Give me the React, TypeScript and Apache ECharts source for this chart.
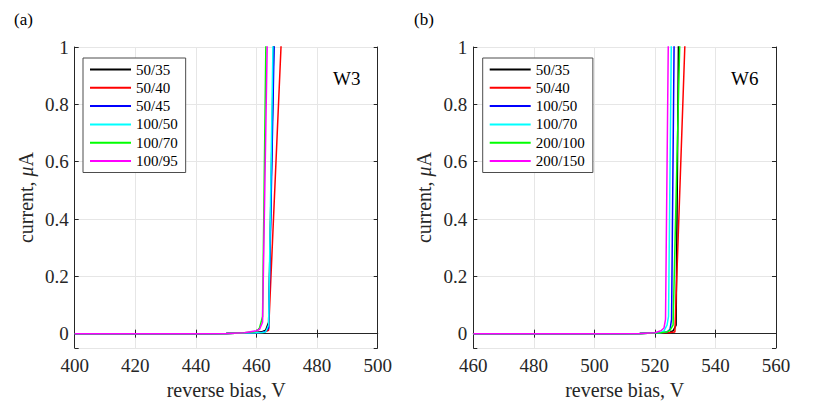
import React, { useEffect, useRef } from "react";
import * as echarts from "echarts";

// ---------- data ----------
const W3_LABELS = ["50/35", "50/40", "50/45", "100/50", "100/70", "100/95"];
const W6_LABELS = ["50/35", "50/40", "100/50", "100/70", "200/100", "200/150"];
const COLORS = ["#000000", "#ff0000", "#0000ff", "#00ffff", "#00ff00", "#ff00ff"];

// W3 panel: reverse bias (V) and current (uA)
const W3_V_5035 = [400, 440, 450, 456, 460, 462, 463, 464, 466];
const W3_I_5035 = [0, 0, 0.001, 0.002, 0.004, 0.008, 0.012, 0.04, 1.2];
const W3_V_5040 = [400, 440, 450, 456, 460, 462, 463, 464, 468.5];
const W3_I_5040 = [0, 0, 0.001, 0.002, 0.003, 0.005, 0.007, 0.012, 1.1];
const W3_V_5045 = [400, 440, 450, 456, 460, 462, 463, 464, 466];
const W3_I_5045 = [0, 0, 0.001, 0.002, 0.003, 0.005, 0.008, 0.02, 1.1];
const W3_V_10050 = [400, 440, 450, 456, 460, 462, 463, 464, 465.5];
const W3_I_10050 = [0, 0, 0.001, 0.002, 0.003, 0.004, 0.006, 0.03, 1.05];
const W3_V_10070 = [400, 440, 450, 456, 460, 461, 462, 463.2];
const W3_I_10070 = [0, 0, 0.001, 0.003, 0.008, 0.02, 0.06, 1.1];
const W3_V_10095 = [400, 440, 450, 456, 460, 461, 462, 463.6];
const W3_I_10095 = [0, 0, 0.001, 0.003, 0.01, 0.015, 0.04, 1.05];

// W6 panel
const W6_V_5035 = [460, 500, 515, 520, 523, 525, 526, 527, 528];
const W6_I_5035 = [0, 0, 0.001, 0.002, 0.003, 0.005, 0.01, 0.03, 1.3];
const W6_V_5040 = [460, 500, 515, 520, 523, 525, 526.6, 530.2];
const W6_I_5040 = [0, 0, 0.001, 0.002, 0.003, 0.004, 0.006, 1.1];
const W6_V_10050 = [460, 500, 515, 520, 522, 524, 525, 525.5, 526.5];
const W6_I_10050 = [0, 0, 0.001, 0.002, 0.003, 0.006, 0.015, 0.05, 1.2];
const W6_V_10070 = [460, 500, 515, 520, 522, 523, 524, 524.5, 525.5];
const W6_I_10070 = [0, 0, 0.001, 0.002, 0.004, 0.01, 0.03, 0.06, 1.1];
const W6_V_200100 = [460, 500, 515, 520, 522, 524, 525, 526, 528.4];
const W6_I_200100 = [0, 0, 0.001, 0.002, 0.003, 0.006, 0.012, 0.03, 1.1];
const W6_V_200150 = [460, 500, 515, 520, 522, 523, 523.5, 524.5];
const W6_I_200150 = [0, 0, 0.001, 0.003, 0.01, 0.02, 0.05, 1.1];

const W3_V = [W3_V_5035, W3_V_5040, W3_V_5045, W3_V_10050, W3_V_10070, W3_V_10095];
const W3_I = [W3_I_5035, W3_I_5040, W3_I_5045, W3_I_10050, W3_I_10070, W3_I_10095];
const W6_V = [W6_V_5035, W6_V_5040, W6_V_10050, W6_V_10070, W6_V_200100, W6_V_200150];
const W6_I = [W6_I_5035, W6_I_5040, W6_I_10050, W6_I_10070, W6_I_200100, W6_I_200150];

const W3_X_RANGE = [400, 500];
const W6_X_RANGE = [460, 560];
const Y_RANGE = [-0.05, 1];
const X_TITLE = "reverse bias, V";
const PANEL_TAGS = ["(a)", "(b)"];
const PANEL_NAMES = ["W3", "W6"];

const FONT = "'Liberation Serif', 'Times New Roman', serif";
const AXIS_COLOR = "#262626";
const GRID_COLOR = "#e6e6e6";

export default function App() {
  const ref = useRef<HTMLDivElement>(null);

  useEffect(() => {
    if (!ref.current) return;
    const chart = echarts.init(ref.current, null, { renderer: "svg" });

    const grids = [
      { left: 74.7, right: 452.3, top: 47, bottom: 67 },
      { left: 473.3, right: 54, top: 47, bottom: 67 },
    ];
    const ranges = [W3_X_RANGE, W6_X_RANGE];

    const xAxis: any[] = [];
    const yAxis: any[] = [];
    ranges.forEach((r, g) => {
      xAxis.push({
        type: "value",
        gridIndex: g,
        min: r[0],
        max: r[1],
        interval: 20,
        position: "bottom",
        name: X_TITLE,
        nameLocation: "middle",
        nameGap: 29,
        nameTextStyle: { fontFamily: FONT, fontSize: 20, color: AXIS_COLOR },
        axisLine: { lineStyle: { color: AXIS_COLOR, width: 1 } },
        axisTick: { inside: true, length: 4, lineStyle: { color: AXIS_COLOR } },
        axisLabel: { fontFamily: FONT, fontSize: 19, color: AXIS_COLOR, margin: 8 },
        splitLine: { show: true, lineStyle: { color: GRID_COLOR, width: 1 } },
      });
      xAxis.push({
        type: "value",
        gridIndex: g,
        min: r[0],
        max: r[1],
        interval: 20,
        position: "top",
        axisLine: { lineStyle: { color: AXIS_COLOR, width: 1 } },
        axisTick: { inside: true, length: 4, lineStyle: { color: AXIS_COLOR } },
        axisLabel: { show: false },
        splitLine: { show: false },
      });
      yAxis.push({
        type: "value",
        gridIndex: g,
        min: Y_RANGE[0],
        max: Y_RANGE[1],
        splitNumber: 5,
        position: "left",
        name: "{a|current, }{b|μ}{a|A}",
        nameLocation: "middle",
        nameGap: 39,
        nameTextStyle: {
          rich: {
            a: { fontFamily: FONT, fontSize: 20, color: AXIS_COLOR },
            b: { fontFamily: FONT, fontSize: 20, fontStyle: "italic", color: AXIS_COLOR },
          },
        },
        axisLine: { lineStyle: { color: AXIS_COLOR, width: 1 } },
        axisTick: { inside: true, length: 4, lineStyle: { color: AXIS_COLOR } },
        axisLabel: {
          fontFamily: FONT,
          fontSize: 19,
          color: AXIS_COLOR,
          margin: 6,
          formatter: (v: number) => (v < 0 ? "" : String(Math.round(v * 10) / 10)),
        },
        splitLine: { show: true, lineStyle: { color: GRID_COLOR, width: 1 } },
      });
      yAxis.push({
        type: "value",
        gridIndex: g,
        min: Y_RANGE[0],
        max: Y_RANGE[1],
        splitNumber: 5,
        position: "right",
        axisLine: { lineStyle: { color: AXIS_COLOR, width: 1 } },
        axisTick: { inside: true, length: 4, lineStyle: { color: AXIS_COLOR } },
        axisLabel: { show: false },
        splitLine: { show: false },
      });
    });

    const series: any[] = [];
    const makeSeries = (prefix: string, labels: string[], vs: number[][], is: number[][], g: number) => {
      labels.forEach((lab, k) => {
        series.push({
          type: "line",
          name: prefix + lab,
          xAxisIndex: g * 2,
          yAxisIndex: g * 2,
          data: vs[k].map((v, j) => [v, is[k][j]]),
          symbol: "none",
          clip: true,
          z: 2 + k,
          lineStyle: { color: COLORS[k], width: 1.5 },
          itemStyle: { color: COLORS[k] },
        });
      });
    };
    makeSeries("W3 ", W3_LABELS, W3_V, W3_I, 0);
    makeSeries("W6 ", W6_LABELS, W6_V, W6_I, 1);

    const legendBase = {
      orient: "vertical",
      top: 58,
      padding: [4, 8, 4, 6],
      itemWidth: 41,
      itemHeight: 14,
      itemGap: 3.3,
      itemStyle: { opacity: 0 },
      backgroundColor: "#ffffff",
      borderColor: "#4d4d4d",
      borderWidth: 1,
      borderRadius: 0,
      selectedMode: false,
      z: 20,
      textStyle: { fontFamily: FONT, fontSize: 15, color: "#000000" },
      formatter: (n: string) => n.replace(/^W\d /, ""),
    };

    const option: any = {
      animation: false,
      backgroundColor: "#ffffff",
      grid: grids,
      xAxis,
      yAxis,
      series,
      legend: [
        { ...legendBase, left: 83, data: W3_LABELS.map((l) => "W3 " + l) },
        { ...legendBase, left: 482.7, data: W6_LABELS.map((l) => "W6 " + l) },
      ],
      graphic: [
        { type: "text", left: 14, top: 11, style: { text: PANEL_TAGS[0], font: `17px ${FONT}`, fill: "#000" } },
        { type: "text", left: 414, top: 11, style: { text: PANEL_TAGS[1], font: `17px ${FONT}`, fill: "#000" } },
        { type: "text", left: 333, top: 69, style: { text: PANEL_NAMES[0], font: `19px ${FONT}`, fill: "#000" } },
        { type: "text", left: 731, top: 69, style: { text: PANEL_NAMES[1], font: `19px ${FONT}`, fill: "#000" } },
      ],
    };

    chart.setOption(option);
    return () => chart.dispose();
  }, []);

  return (
    <div
      ref={ref}
      style={{ position: "fixed", left: 0, top: 0, width: 830, height: 415 }}
    />
  );
}
